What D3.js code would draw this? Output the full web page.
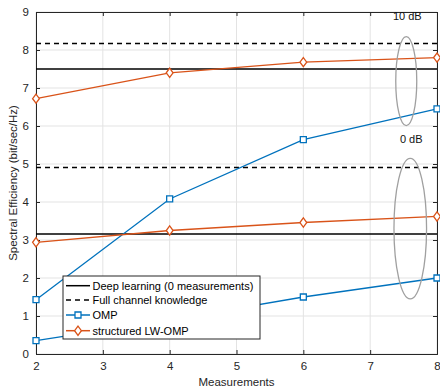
<!DOCTYPE html>
<html>
<head>
<meta charset="utf-8">
<script src="https://cdn.jsdelivr.net/npm/d3@7"></script>
<style>
  html, body { margin: 0; padding: 0; background: #fff; }
  svg { display: block; font-family: "Liberation Sans", Arial, sans-serif; }
</style>
</head>
<body>
<svg id="chart" width="440" height="392"></svg>
<script>
// Number of measurements on the x axis
const measurements = [2, 4, 6, 8];

// Spectral efficiency curves at two SNR levels (10 dB and 0 dB)
const ompHigh = [1.43, 4.08, 5.64, 6.45];
const ompLow = [0.35, 0.90, 1.50, 2.00];
const lwompHigh = [6.72, 7.40, 7.68, 7.80];
const lwompLow = [2.94, 3.25, 3.46, 3.62];

// Horizontal reference levels
const deepLearning = [7.50, 3.16];
const fullChannel = [8.17, 4.91];

const xTicks = [2, 3, 4, 5, 6, 7, 8];
const yTicks = [0, 1, 2, 3, 4, 5, 6, 7, 8, 9];

const legendLabels = ["Deep learning (0 measurements)", "Full channel knowledge", "OMP", "structured LW-OMP"];

const blue = "#0072BD", orange = "#D95319", axisCol = "#262626";

const svg = d3.select("#chart");
const m = { left: 36, right: 3, top: 12, bottom: 38 };
const W = 440, H = 392;

const x = d3.scaleLinear().domain([2, 8]).range([m.left, W - m.right]);
const y = d3.scaleLinear().domain([0, 9]).range([H - m.bottom, m.top]);

// marker shapes: open square and narrow diamond
const squarePath = "M-3,-3H3V3H-3Z";
const diamondPath = "M0,-4.6L3.4,0L0,4.6L-3.4,0Z";

// grid
const grid = svg.append("g");
grid.selectAll(".gx").data(xTicks).enter().append("line")
  .attr("x1", d => x(d)).attr("x2", d => x(d))
  .attr("y1", y(0)).attr("y2", y(9))
  .attr("stroke", "#e3e3e3").attr("stroke-width", 1);
grid.selectAll(".gy").data(yTicks).enter().append("line")
  .attr("x1", x(2)).attr("x2", x(8))
  .attr("y1", d => y(d)).attr("y2", d => y(d))
  .attr("stroke", "#e3e3e3").attr("stroke-width", 1);

// axes
const xAxis = d3.axisBottom(x).tickValues(xTicks).tickSize(-4).tickPadding(8).tickFormat(d3.format("d"));
const yAxis = d3.axisLeft(y).tickValues(yTicks).tickSize(-4).tickPadding(7).tickFormat(d3.format("d"));
const gx = svg.append("g").attr("transform", `translate(0,${y(0)})`).call(xAxis);
const gy = svg.append("g").attr("transform", `translate(${x(2)},0)`).call(yAxis);
const gxTop = svg.append("g").attr("transform", `translate(0,${y(9)})`)
  .call(d3.axisTop(x).tickValues(xTicks).tickSize(-4).tickFormat(""));
const gyRight = svg.append("g").attr("transform", `translate(${x(8)},0)`)
  .call(d3.axisRight(y).tickValues(yTicks).tickSize(-4).tickFormat(""));
[gx, gy, gxTop, gyRight].forEach(g => {
  g.select(".domain").attr("stroke", axisCol).attr("stroke-width", 1);
  g.selectAll(".tick line").attr("stroke", axisCol);
  g.selectAll(".tick text").attr("fill", axisCol).attr("font-size", 11.5)
    .attr("font-family", "Liberation Sans, Arial, sans-serif");
});

// axis labels
svg.append("text").attr("x", (x(2) + x(8)) / 2).attr("y", 385.5)
  .attr("text-anchor", "middle").attr("font-size", 11.5).attr("fill", axisCol)
  .text("Measurements");
svg.append("text").attr("transform", `translate(17,${(y(0) + y(9)) / 2}) rotate(-90)`)
  .attr("text-anchor", "middle").attr("font-size", 11.5).attr("fill", axisCol)
  .text("Spectral Efficiency (bit/sec/Hz)");

// reference lines
const plot = svg.append("g");
deepLearning.forEach(v => plot.append("line")
  .attr("x1", x(2)).attr("x2", x(8)).attr("y1", y(v)).attr("y2", y(v))
  .attr("stroke", "#000").attr("stroke-width", 1.5));
fullChannel.forEach(v => plot.append("line")
  .attr("x1", x(2)).attr("x2", x(8)).attr("y1", y(v)).attr("y2", y(v))
  .attr("stroke", "#000").attr("stroke-width", 1.5).attr("stroke-dasharray", "5,4"));

const line = d3.line().x((d, i) => x(measurements[i])).y(d => y(d));

function drawSeries(vals, color, shapePath) {
  plot.append("path").datum(vals).attr("d", line)
    .attr("fill", "none").attr("stroke", color).attr("stroke-width", 1.3);
  plot.selectAll(null).data(vals).enter().append("path")
    .attr("d", shapePath)
    .attr("transform", (d, i) => `translate(${x(measurements[i])},${y(d)})`)
    .attr("fill", "#fff").attr("stroke", color).attr("stroke-width", 1.3);
}
drawSeries(ompHigh, blue, squarePath);
drawSeries(ompLow, blue, squarePath);
drawSeries(lwompHigh, orange, diamondPath);
drawSeries(lwompLow, orange, diamondPath);

// grouping ellipses and SNR labels
const ellipses = [
  { cx: 7.54, cy: 7.18, rx: 10.5, ry: 44.5, label: "10 dB", ly: 8.8 },
  { cx: 7.60, cy: 3.30, rx: 16.3, ry: 70.3, label: "0 dB", ly: 5.55 }
];
ellipses.forEach(e => {
  plot.append("ellipse").attr("cx", x(e.cx)).attr("cy", y(e.cy))
    .attr("rx", e.rx).attr("ry", e.ry)
    .attr("fill", "none").attr("stroke", "#a0a0a0").attr("stroke-width", 1.3);
  plot.append("text").attr("x", x(e.cx) + 1).attr("y", y(e.ly))
    .attr("text-anchor", "middle").attr("font-size", 11).attr("fill", "#111")
    .text(e.label);
});

// legend
const lg = svg.append("g").attr("transform", "translate(63,276)");
lg.append("rect").attr("x", 0).attr("y", 0).attr("width", 197).attr("height", 63)
  .attr("fill", "#fff").attr("stroke", axisCol).attr("stroke-width", 1);
const rows = [9.7, 24, 39, 54.7];
const styles = [
  { color: "#000", dash: null, marker: null },
  { color: "#000", dash: "5,4", marker: null },
  { color: blue, dash: null, marker: squarePath },
  { color: orange, dash: null, marker: diamondPath }
];
legendLabels.forEach((lab, i) => {
  const st = styles[i], ry = rows[i];
  lg.append("line").attr("x1", 3).attr("x2", 27).attr("y1", ry).attr("y2", ry)
    .attr("stroke", st.color).attr("stroke-width", 1.5)
    .attr("stroke-dasharray", st.dash);
  if (st.marker) {
    lg.append("path").attr("d", st.marker)
      .attr("transform", `translate(15,${ry})`)
      .attr("fill", "#fff").attr("stroke", st.color).attr("stroke-width", 1.3);
  }
  lg.append("text").attr("x", 29.5).attr("y", ry + 4)
    .attr("font-size", 11).attr("fill", "#000").text(lab);
});
</script>
</body>
</html>
